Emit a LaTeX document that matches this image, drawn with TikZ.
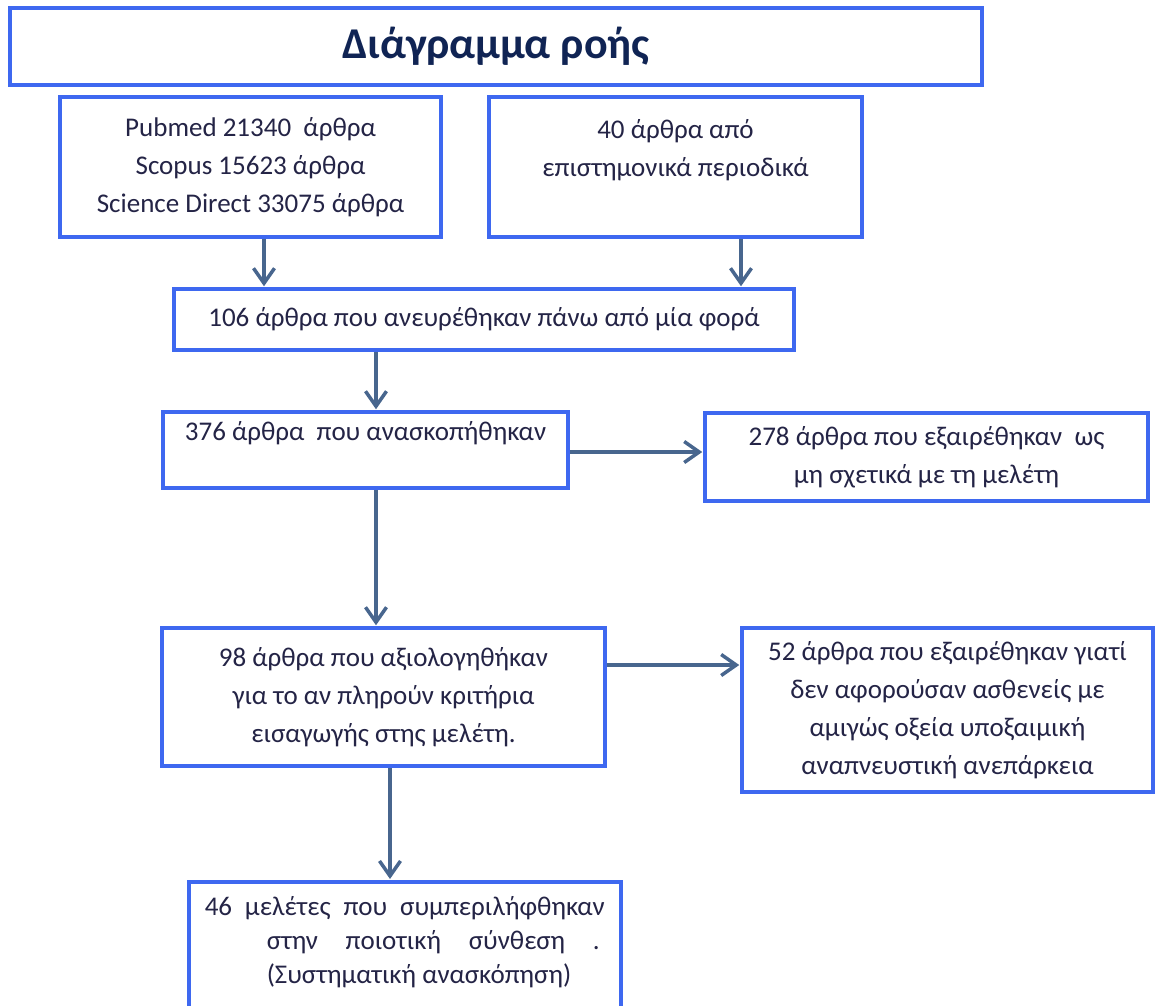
\documentclass[tikz,border=0pt]{standalone}
\usepackage{fontspec}
\setmainfont{Carlito}
\usetikzlibrary{arrows.meta}
\definecolor{boxblue}{RGB}{62,104,240}
\definecolor{arrowgray}{RGB}{72,102,142}
\definecolor{textnavy}{RGB}{36,36,70}
\definecolor{titlenavy}{RGB}{16,36,84}
\tikzset{
    base_box/.style={rectangle, draw=boxblue, line width=3.5pt, fill=white, inner sep=0pt,
                     align=center, text=textnavy, font=\fontsize{27}{38}\selectfont},
    title_box/.style={base_box, text=titlenavy, font=\fontsize{44}{50}\selectfont\bfseries},
    flow_arrow/.style={-{Straight Barb[length=15pt, width=21pt]}, line width=3.5pt, draw=arrowgray,
                       shorten >=1pt}
}

\begin{document}
\begin{tikzpicture}[x=1pt, y=-1pt]
    \useasboundingbox (0,0) rectangle (1156,1005);
    \node[title_box, minimum width=972pt, minimum height=77pt] (title) at (496,46.5) {Διάγραμμα ροής};
    \node[base_box, minimum width=381pt, minimum height=140pt] (pubmed) at (250.5,167)
        {Pubmed 21340\ \ άρθρα\\Scopus 15623 άρθρα\\Science Direct 33075 άρθρα};
    \node[base_box, minimum width=373pt, minimum height=140pt] (journals) at (675.5,167)
        {40 άρθρα από\\επιστημονικά περιοδικά\\ \mbox{}};
    \node[base_box, minimum width=620pt, minimum height=61pt] (found) at (484,319.5)
        {106 άρθρα που ανευρέθηκαν πάνω από μία φορά};
    \node[base_box, minimum width=405pt, minimum height=76pt] (screened) at (365.5,450)
        {376 άρθρα\ \ που ανασκοπήθηκαν\\ \mbox{}};
    \node[base_box, minimum width=443pt, minimum height=88pt] (irrelevant) at (926.5,457)
        {278 άρθρα που εξαιρέθηκαν\ \ ως\\μη σχετικά με τη μελέτη};
    \node[base_box, minimum width=443pt, minimum height=138pt] (assessed) at (383.5,697)
        {98 άρθρα που αξιολογηθήκαν\\για το αν πληρούν κριτήρια\\εισαγωγής στης μελέτη.};
    \node[base_box, minimum width=411pt, minimum height=164pt] (excluded) at (947.5,710)
        {52 άρθρα που εξαιρέθηκαν γιατί\\δεν αφορούσαν ασθενείς με\\αμιγώς οξεία υποξαιμική\\αναπνευστική ανεπάρκεια};
    \node[base_box, anchor=north west, align=left, inner xsep=16pt, minimum width=430pt, minimum height=150pt,
          font=\fontsize{27}{34}\selectfont] (included) at (187,880)
        {\makebox[400pt][s]{46 μελέτες που συμπεριλήφθηκαν}\\
         \hspace*{62pt}\makebox[333pt][s]{στην ποιοτική σύνθεση .}\\
         \hspace*{62pt}(Συστηματική ανασκόπηση)\\ \mbox{}};
    % arrow start points
    \coordinate (pubout) at ([xshift=13.5pt]pubmed.south);
    \coordinate (jourout) at ([xshift=65.5pt]journals.south);
    \coordinate (foundout) at ([xshift=-108pt]found.south);
    \coordinate (screenout) at ([xshift=10.5pt]screened.south);
    \coordinate (screenside) at ([yshift=-2pt]screened.east);
    \coordinate (assessout) at ([xshift=6.5pt]assessed.south);
    \coordinate (assessside) at ([yshift=32pt]assessed.east);
    \draw[flow_arrow] (pubout) -- (pubout |- found.north);
    \draw[flow_arrow] (jourout) -- (jourout |- found.north);
    \draw[flow_arrow] (foundout) -- (foundout |- screened.north);
    \draw[flow_arrow] (screenside) -- (screenside -| irrelevant.west);
    \draw[flow_arrow] (screenout) -- (screenout |- assessed.north);
    \draw[flow_arrow] (assessside) -- (assessside -| excluded.west);
    \draw[flow_arrow] (assessout) -- (assessout |- included.north);
\end{tikzpicture}
\end{document}
